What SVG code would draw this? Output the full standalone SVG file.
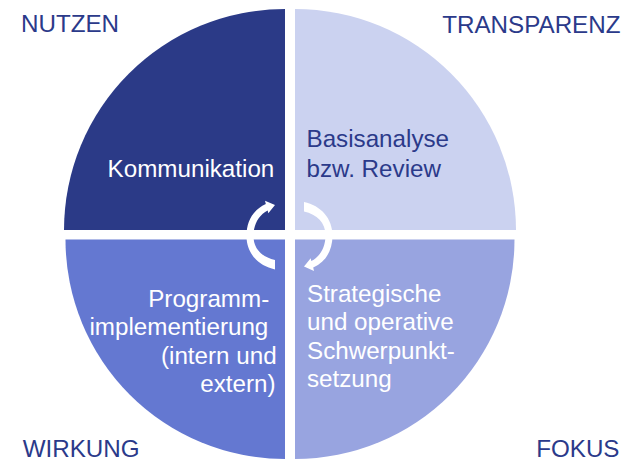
<svg xmlns="http://www.w3.org/2000/svg" width="641" height="461" viewBox="0 0 641 461">
  <style>
    text { font-family: "Liberation Sans", Arial, sans-serif; font-size: 24.2px; }
    .lbl { fill: #2B3A8A; }
    .w { fill: #FFFFFF; }
    .d { fill: #2B3A8A; }
    .arrow { fill: #FFFFFF; }
  </style>
  <defs>
    <path id="cyc" d="M275,269.5 C258,266 246.5,253 246.5,236 C246.5,221 253,210 265.8,204 L265,200.7 L275,205 L268.3,213.3 L267.7,210.5 C259,215 253.5,224 253.5,236 C253.5,249 262,257 275,260 Z"/>
  </defs>
  <rect width="641" height="461" fill="#FFFFFF"/>

  <g id="nutzen">
    <path d="M285,230 L64,230 A221,221 0 0 1 285,9 Z" fill="#2B3A87"/>
    <text class="w" x="274.3" y="177.3" text-anchor="end">Kommunikation</text>
  </g>
  <g id="transparenz">
    <path d="M295,230 L295,9 A221,221 0 0 1 516,230 Z" fill="#CBD2F0"/>
    <text class="d" x="306.5" y="147.3">Basisanalyse</text>
    <text class="d" x="306.5" y="177.3">bzw. Review</text>
  </g>
  <g id="wirkung">
    <path d="M285,239.5 L65.5,239.5 A219.5,219.5 0 0 0 285,459 Z" fill="#6478D1"/>
    <text class="w" x="269.2" y="306.5" text-anchor="end">Programm-</text>
    <text class="w" x="268.3" y="335" text-anchor="end">implementierung</text>
    <text class="w" x="276.6" y="363.5" text-anchor="end">(intern und</text>
    <text class="w" x="275.6" y="392" text-anchor="end">extern)</text>
  </g>
  <g id="fokus">
    <path d="M295,239.5 L514.5,239.5 A219.5,219.5 0 0 1 295,459 Z" fill="#98A4E0"/>
    <text class="w" x="307" y="301.7">Strategische</text>
    <text class="w" x="307" y="330.2">und operative</text>
    <text class="w" x="307" y="358.7">Schwerpunkt-</text>
    <text class="w" x="307" y="387.2">setzung</text>
  </g>

  <g id="connectors">
    <use href="#cyc" class="arrow"/>
    <use href="#cyc" class="arrow" transform="rotate(180 289.5 235.8)"/>
  </g>

  <g id="corner-labels">
    <text class="lbl" x="21" y="32">NUTZEN</text>
    <text class="lbl" x="620.5" y="32.5" text-anchor="end">TRANSPARENZ</text>
    <text class="lbl" x="22.7" y="456.7">WIRKUNG</text>
    <text class="lbl" x="619.5" y="456.7" text-anchor="end">FOKUS</text>
  </g>
</svg>
